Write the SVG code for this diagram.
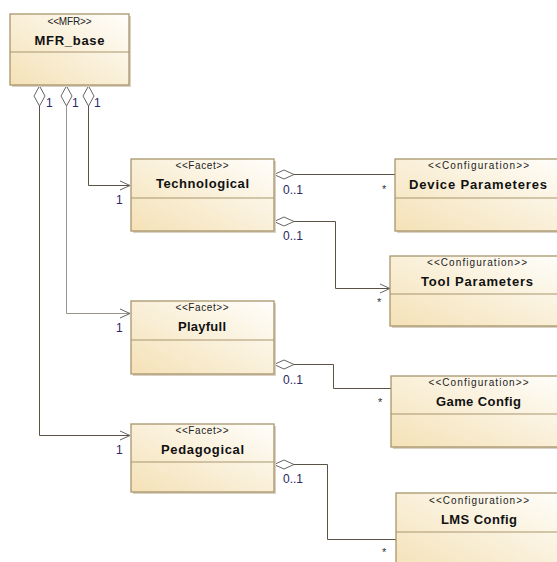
<svg xmlns="http://www.w3.org/2000/svg" width="557" height="562" viewBox="0 0 557 562">
<style>
.box{fill:url(#g);stroke:#a8966c;stroke-width:1.3}
.shadow{fill:#d9d2c4}
.div{stroke:#a8966c;stroke-width:1.2}
.st{font-family:"Liberation Sans",Arial,sans-serif;font-size:10px;fill:#222;text-anchor:middle}
.nm{font-family:"Liberation Sans",Arial,sans-serif;font-size:13px;font-weight:bold;fill:#111;text-anchor:middle}
.ml{font-family:"Liberation Sans",Arial,sans-serif;font-size:12px;fill:#2a2862}
.ast{font-family:"Liberation Sans",Arial,sans-serif;font-size:11px;fill:#333}
.c{fill:none;stroke:#5a5244;stroke-width:1}
.dm{fill:#fff;stroke:#666;stroke-width:1}
</style>
<defs>
<linearGradient id="g" x1="0" y1="1" x2="1" y2="0">
<stop offset="0" stop-color="#f4e1b6"/>
<stop offset="1" stop-color="#fffefb"/>
</linearGradient>
<marker id="arr" markerWidth="12" markerHeight="12" refX="11" refY="6" orient="auto" markerUnits="userSpaceOnUse">
<path d="M1,1.5 L11,6 L1,10.5" fill="none" stroke="#666" stroke-width="1"/>
</marker>
</defs>
<rect width="557" height="562" fill="#fff"/>

<g id="connectors">
<path class="c" d="M88.5,106 V185.5 H130" marker-end="url(#arr)"/>
<path class="c" d="M66.5,106 V313.5 H130" marker-end="url(#arr)" style="stroke:#9a958c"/>
<path class="c" d="M39.5,106 V435.5 H130" marker-end="url(#arr)"/>
<path class="c" d="M294,174.5 H395"/>
<path class="c" d="M294,221.5 H335.5 V288.5 H390" marker-end="url(#arr)"/>
<path class="c" d="M294,364.5 H333.5 V388.5 H391"/>
<path class="c" d="M294,464.5 H327.5 V539.5 H396"/>
<path class="dm" d="M88.5,86 L94,96 L88.5,106 L83,96 Z"/>
<path class="dm" d="M66.5,86 L72,96 L66.5,106 L61,96 Z"/>
<path class="dm" d="M39.5,86 L45,96 L39.5,106 L34,96 Z"/>
<path class="dm" d="M274,174.5 L284,170 L294,174.5 L284,179 Z"/>
<path class="dm" d="M274,221.5 L284,217 L294,221.5 L284,226 Z"/>
<path class="dm" d="M274,364.5 L284,360 L294,364.5 L284,369 Z"/>
<path class="dm" d="M274,464.5 L284,460 L294,464.5 L284,469 Z"/>
<text class="ml" x="46" y="107">1</text>
<text class="ml" x="72" y="107">1</text>
<text class="ml" x="94" y="107">1</text>
<text class="ml" x="116" y="204">1</text>
<text class="ml" x="116" y="332">1</text>
<text class="ml" x="116" y="454">1</text>
<text class="ml" x="283" y="194">0..1</text>
<text class="ml" x="283" y="240">0..1</text>
<text class="ml" x="283" y="384">0..1</text>
<text class="ml" x="283" y="483">0..1</text>
<text class="ast" x="382" y="193">*</text>
<text class="ast" x="377" y="306">*</text>
<text class="ast" x="378" y="406">*</text>
<text class="ast" x="382" y="556">*</text>
</g>

<g id="MFR_base">
<rect class="shadow" x="12" y="16" width="119" height="71"/>
<rect class="box" x="10" y="14" width="119" height="71"/>
<line class="div" x1="10" y1="52" x2="129" y2="52"/>
<text class="st" x="69.5" y="25" textLength="44">&lt;&lt;MFR&gt;&gt;</text>
<text class="nm" x="69.5" y="45" textLength="70">MFR_base</text>
</g>

<g id="Technological">
<rect class="shadow" x="133" y="161" width="143" height="72"/>
<rect class="box" x="131" y="159" width="143" height="72"/>
<line class="div" x1="131" y1="198" x2="274" y2="198"/>
<text class="st" x="202" y="169" textLength="53">&lt;&lt;Facet&gt;&gt;</text>
<text class="nm" x="202.5" y="188" textLength="93">Technological</text>
</g>

<g id="Playfull">
<rect class="shadow" x="133" y="303" width="143" height="73"/>
<rect class="box" x="131" y="301" width="143" height="73"/>
<line class="div" x1="131" y1="340" x2="274" y2="340"/>
<text class="st" x="202" y="311" textLength="53">&lt;&lt;Facet&gt;&gt;</text>
<text class="nm" x="202" y="331" textLength="48">Playfull</text>
</g>

<g id="Pedagogical">
<rect class="shadow" x="133" y="426" width="143" height="68"/>
<rect class="box" x="131" y="424" width="143" height="68"/>
<line class="div" x1="131" y1="462" x2="274" y2="462"/>
<text class="st" x="202" y="434" textLength="53">&lt;&lt;Facet&gt;&gt;</text>
<text class="nm" x="202.5" y="454" textLength="83">Pedagogical</text>
</g>

<g id="DeviceParameteres">
<rect class="shadow" x="397" y="161" width="170" height="72"/>
<rect class="box" x="395" y="159" width="170" height="72"/>
<line class="div" x1="395" y1="198" x2="565" y2="198"/>
<text class="st" x="478.5" y="169" textLength="101">&lt;&lt;Configuration&gt;&gt;</text>
<text class="nm" x="478" y="189" textLength="138">Device Parameteres</text>
</g>

<g id="ToolParameters">
<rect class="shadow" x="392" y="258" width="175" height="70"/>
<rect class="box" x="390" y="256" width="175" height="70"/>
<line class="div" x1="390" y1="294" x2="565" y2="294"/>
<text class="st" x="477" y="266" textLength="100">&lt;&lt;Configuration&gt;&gt;</text>
<text class="nm" x="477" y="286" textLength="112">Tool Parameters</text>
</g>

<g id="GameConfig">
<rect class="shadow" x="393" y="378" width="175" height="71"/>
<rect class="box" x="391" y="376" width="175" height="71"/>
<line class="div" x1="391" y1="414" x2="566" y2="414"/>
<text class="st" x="478.5" y="386" textLength="100">&lt;&lt;Configuration&gt;&gt;</text>
<text class="nm" x="478.5" y="406" textLength="85">Game Config</text>
</g>

<g id="LMSConfig">
<rect class="shadow" x="398" y="495" width="170" height="80"/>
<rect class="box" x="396" y="493" width="170" height="80"/>
<line class="div" x1="396" y1="532" x2="566" y2="532"/>
<text class="st" x="479" y="504" textLength="100">&lt;&lt;Configuration&gt;&gt;</text>
<text class="nm" x="479" y="524" textLength="76">LMS Config</text>
</g>
</svg>
